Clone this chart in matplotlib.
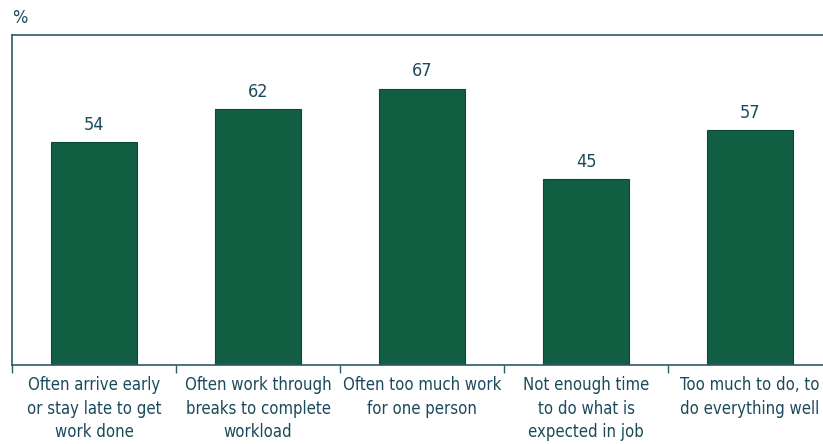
import matplotlib
matplotlib.use("Agg")
import matplotlib.pyplot as plt

categories = [
    "Often arrive early\nor stay late to get\nwork done",
    "Often work through\nbreaks to complete\nworkload",
    "Often too much work\nfor one person",
    "Not enough time\nto do what is\nexpected in job",
    "Too much to do, to\ndo everything well",
]
values = [54, 62, 67, 45, 57]

bar_color = "#115e43"
text_color = "#1a4a5c"
axis_color = "#2e5a6b"

plt.rcParams["font.family"] = ["DejaVu Sans"]
plt.rcParams["font.stretch"] = "condensed"
fs = 12.0

fig = plt.figure(figsize=(8.23, 4.44), dpi=100)
ax = fig.add_axes([12 / 823, (444 - 365) / 444, 820 / 823, 330 / 444])

x = list(range(len(values)))
ax.bar(x, values, width=0.525, color=bar_color, edgecolor="#0d4a35", linewidth=0.8, zorder=2)
for xi, v in zip(x, values):
    ax.text(xi, v + 2.0, f"{v}", ha="center", va="bottom", fontsize=13, color=text_color)

ax.set_xlim(-0.5, len(values) - 0.5)
ax.set_ylim(0, 80)
ax.set_yticks([])
ax.set_xticks([i - 0.5 for i in range(len(values) + 1)])
ax.set_xticklabels([])
ax.set_xticks(x, minor=True)
ax.set_xticklabels(categories, minor=True, fontsize=fs, color=text_color, linespacing=1.4)
ax.tick_params(axis="x", which="major", direction="out", length=6, width=1, color=axis_color)
ax.tick_params(axis="x", which="minor", length=0, pad=8)

for side in ["left", "top", "bottom"]:
    ax.spines[side].set_color(axis_color)
    ax.spines[side].set_linewidth(1.2)
ax.spines["right"].set_visible(False)

fig.text(12 / 823, 1 - 18 / 444, "%", ha="left", va="center", fontsize=13, color=text_color)

fig.savefig("out.png", dpi=100)
